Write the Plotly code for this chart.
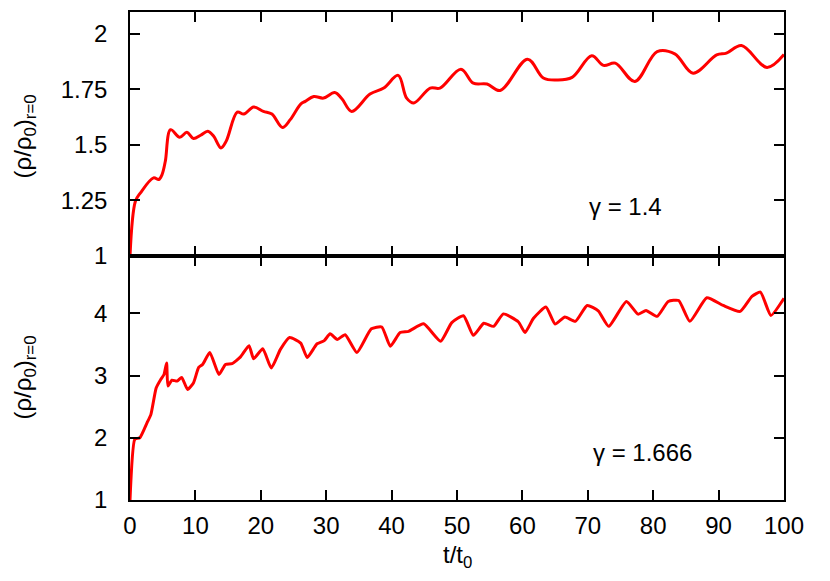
import plotly.graph_objects as go
from plotly.subplots import make_subplots

# top panel (gamma = 1.4)
t_top = [0, 0.84, 1.6, 3.6, 4.4, 4.9, 5.4, 6.2, 7.6, 8.7, 9.7, 10.8, 11.9, 12.8, 13.9, 14.7,
         16.4, 17.4, 18.9, 20.4, 21.7, 23.3, 24.5, 26.1, 26.8, 28.1, 29.6, 31.3, 32.4, 33.9,
         36.7, 38.8, 41.0, 42.3, 43.4, 45.9, 47.4, 50.6, 52.5, 54.6, 56.6, 60.8, 63.2, 65.3,
         67.6, 70.6, 72.4, 74.2, 77.2, 80.6, 83.3, 86.1, 89.7, 91.2, 93.5, 97.4, 100]
rho_top = [1.0, 1.247, 1.284, 1.351, 1.344, 1.366, 1.426, 1.568, 1.534, 1.556, 1.528, 1.543, 1.561, 1.538, 1.486, 1.516,
           1.647, 1.638, 1.670, 1.650, 1.638, 1.578, 1.613, 1.683, 1.695, 1.717, 1.710, 1.735, 1.707, 1.650,
           1.728, 1.755, 1.812, 1.710, 1.688, 1.755, 1.755, 1.840, 1.777, 1.773, 1.744, 1.885, 1.800, 1.791,
           1.803, 1.900, 1.857, 1.867, 1.785, 1.919, 1.909, 1.822, 1.904, 1.912, 1.946, 1.848, 1.906]

# bottom panel (gamma = 1.666)
t_bot = [0, 0.74, 1.5, 2.6, 3.2, 4.0, 4.7, 5.2, 5.6, 5.8, 6.4, 7.2, 7.9, 8.8, 9.7, 10.5, 11.1, 12.2,
         13.6, 14.6, 15.6, 16.9, 18.2, 18.9, 20.3, 21.6, 23.0, 24.4, 26.1, 27.1, 28.6, 29.7, 30.6,
         31.7, 32.9, 34.7, 36.9, 38.5, 39.8, 41.3, 42.6, 44.9, 47.5, 49.2, 51.0, 52.5, 54.1, 55.6,
         57.1, 59.4, 60.4, 61.7, 63.6, 65.0, 66.5, 68.1, 69.9, 71.6, 73.2, 75.9, 77.7, 78.9, 80.6,
         82.3, 83.9, 85.6, 88.2, 90.7, 93.3, 95.1, 96.4, 98.0, 100]
rho_bot = [1.0, 1.976, 2.0, 2.24, 2.376, 2.80, 2.936, 3.016, 3.20, 2.83, 2.925, 2.91, 2.97, 2.776, 2.88, 3.13, 3.176, 3.37,
           3.016, 3.176, 3.19, 3.30, 3.48, 3.27, 3.43, 3.12, 3.42, 3.61, 3.52, 3.29, 3.51, 3.56, 3.67,
           3.58, 3.656, 3.37, 3.75, 3.78, 3.47, 3.69, 3.71, 3.83, 3.55, 3.85, 3.96, 3.645, 3.84, 3.79,
           3.99, 3.86, 3.69, 3.92, 4.10, 3.826, 3.94, 3.87, 4.125, 4.04, 3.79, 4.19, 3.986, 4.045, 3.95,
           4.19, 4.205, 3.87, 4.25, 4.125, 4.03, 4.27, 4.34, 3.965, 4.24]

x_ticks = [0, 10, 20, 30, 40, 50, 60, 70, 80, 90, 100]
top_yticks = [1, 1.25, 1.5, 1.75, 2]
top_yticklabels = ["1", "1.25", "1.5", "1.75", "2"]
bot_yticks = [1, 2, 3, 4]
labels = ["γ = 1.4", "γ = 1.666"]
y_title = "(ρ/ρ<sub>0</sub>)<sub>r=0</sub>"
x_title = "t/t<sub>0</sub>"

FONT = "Liberation Sans"
RED = "#ff0000"
TICK_SIZE = 24

fig = make_subplots(rows=2, cols=1, shared_xaxes=True, vertical_spacing=0)
fig.add_trace(go.Scatter(x=t_top, y=rho_top, mode="lines",
                         line=dict(color=RED, width=3, shape="spline", smoothing=1.0)), row=1, col=1)
fig.add_trace(go.Scatter(x=t_bot, y=rho_bot, mode="lines",
                         line=dict(color=RED, width=3, shape="spline", smoothing=0.5)), row=2, col=1)

axis_common = dict(showline=True, linecolor="black", linewidth=1.5, mirror="ticks",
                   ticks="inside", ticklen=10, tickwidth=1.5, tickcolor="black",
                   showgrid=False, zeroline=False,
                   tickfont=dict(family=FONT, size=TICK_SIZE, color="black"))

fig.update_xaxes(range=[0, 100], tickvals=x_ticks, ticklabelstandoff=3, **axis_common)
fig.update_xaxes(showticklabels=False, row=1, col=1)

fig.update_yaxes(ticklabelstandoff=16, **axis_common)
fig.update_yaxes(range=[1, 2.097], tickvals=top_yticks, ticktext=top_yticklabels, row=1, col=1)
fig.update_yaxes(range=[1, 4.92], tickvals=bot_yticks, row=2, col=1)

# axis titles
fig.add_annotation(x=-0.162, y=0.745, xref="paper", yref="paper", text=y_title, textangle=-90,
                   showarrow=False, xanchor="center", yanchor="middle",
                   font=dict(family=FONT, size=24, color="black"))
fig.add_annotation(x=-0.162, y=0.251, xref="paper", yref="paper", text=y_title, textangle=-90,
                   showarrow=False, xanchor="center", yanchor="middle",
                   font=dict(family=FONT, size=24, color="black"))
fig.add_annotation(x=0.5, y=-0.115, xref="paper", yref="paper", text=x_title,
                   showarrow=False, xanchor="center", yanchor="middle",
                   font=dict(family=FONT, size=TICK_SIZE, color="black"))

fig.add_annotation(x=75.8, y=1.224, xref="x", yref="y", text=labels[0], showarrow=False,
                   font=dict(family=FONT, size=TICK_SIZE, color="black"))
fig.add_annotation(x=78.3, y=1.77, xref="x2", yref="y2", text=labels[1], showarrow=False,
                   font=dict(family=FONT, size=TICK_SIZE, color="black"))

fig.update_layout(width=822, height=573, showlegend=False,
                  paper_bgcolor="white", plot_bgcolor="white",
                  margin=dict(l=122, r=46, t=2, b=81))

fig.write_html("out.html")
